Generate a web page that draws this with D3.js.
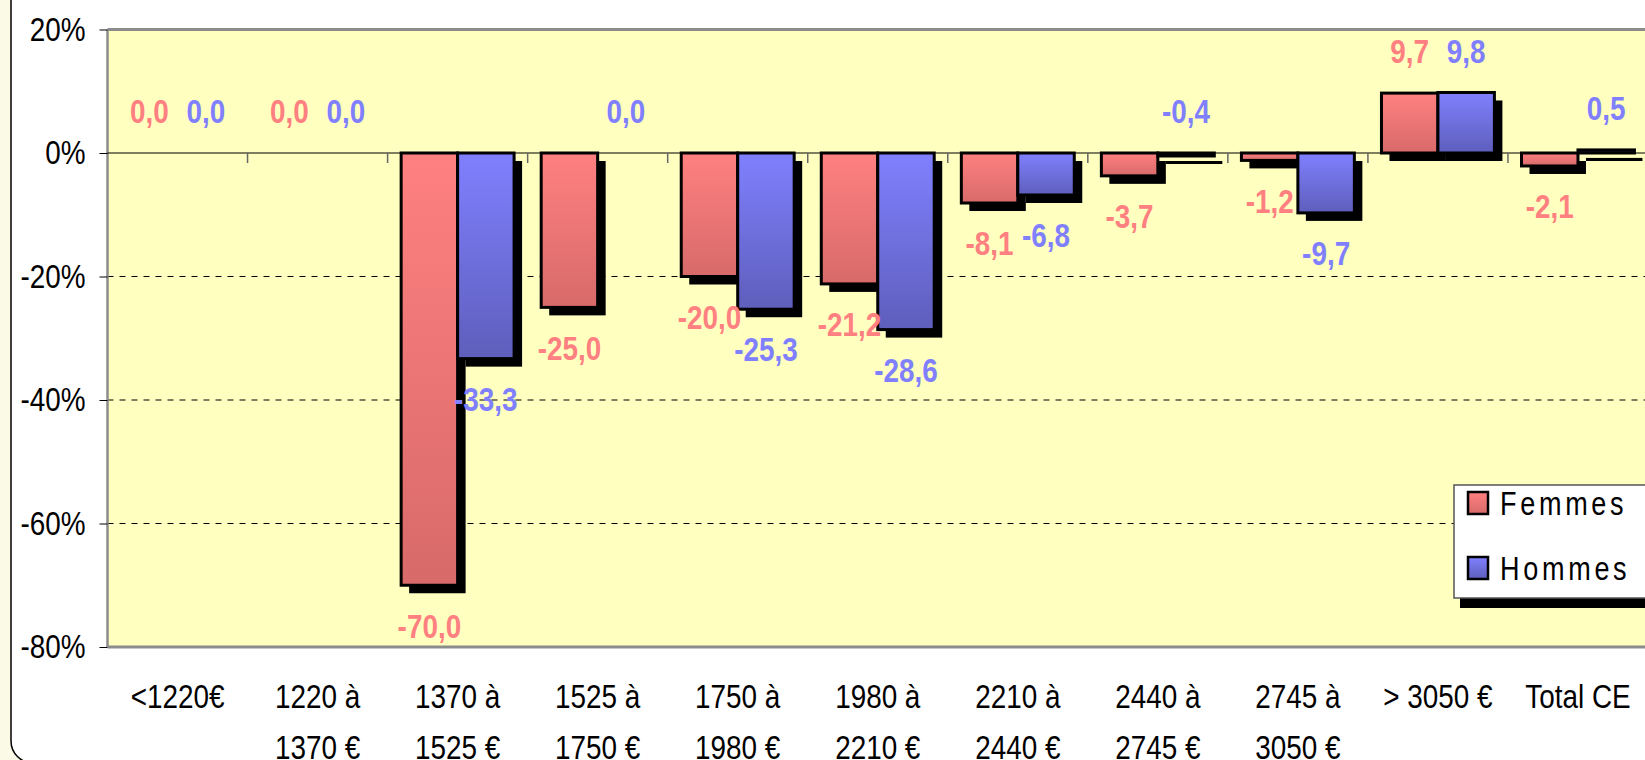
<!DOCTYPE html>
<html>
<head>
<meta charset="utf-8">
<script src="https://cdn.jsdelivr.net/npm/d3@7"></script>
<style>
  html, body { margin: 0; padding: 0; background: #fafae6; overflow: hidden; }
  svg { display: block; }
  text { font-family: "Liberation Sans", Arial, sans-serif; }
</style>
</head>
<body>
<div id="chart"></div>
<script>
// categories and values
const categories = [
  ["<1220€"], ["1220 à", "1370 €"], ["1370 à", "1525 €"], ["1525 à", "1750 €"],
  ["1750 à", "1980 €"], ["1980 à", "2210 €"], ["2210 à", "2440 €"], ["2440 à", "2745 €"],
  ["2745 à", "3050 €"], ["> 3050 €"], ["Total CE"]
];
const seriesNames = ["Femmes", "Hommes"];
const femmes = [0.0, 0.0, -70.0, -25.0, -20.0, -21.2, -8.1, -3.7, -1.2, 9.7, -2.1];
const hommes = [0.0, 0.0, -33.3, null, -25.3, -28.6, -6.8, -0.4, -9.7, 9.8, 0.5];
const hommesLabels = [0.0, 0.0, -33.3, 0.0, -25.3, -28.6, -6.8, -0.4, -9.7, 9.8, 0.5];
const yTicks = [20, 0, -20, -40, -60, -80];

const W = 1645, H = 760;
const margin = { top: 29.5, right: -3, bottom: 113, left: 107.5 };
const SX = 0.82; // narrow look (Arial Narrow is ~82% of Arial)

const svg = d3.select("#chart").append("svg")
  .attr("width", W).attr("height", H);

const defs = svg.append("defs");
const grads = { Femmes: ["#ff8080", "#d86a6a"], Hommes: ["#8080ff", "#5e5ebc"] };
Object.entries(grads).forEach(([k, c]) => {
  const g = defs.append("linearGradient").attr("id", "g" + k)
    .attr("x1", 0).attr("y1", 0).attr("x2", 0).attr("y2", 1);
  g.append("stop").attr("offset", "0%").attr("stop-color", c[0]);
  g.append("stop").attr("offset", "100%").attr("stop-color", c[1]);
});

// outer frame
svg.append("rect")
  .attr("x", 11).attr("y", -40).attr("width", 1700).attr("height", 803)
  .attr("rx", 22).attr("fill", "#ffffff").attr("stroke", "#000").attr("stroke-width", 1.5);

const x0 = d3.scaleBand()
  .domain(d3.range(categories.length))
  .range([margin.left, W - margin.right]);
const x1 = d3.scaleBand()
  .domain(seriesNames)
  .range([0, x0.bandwidth()])
  .paddingOuter(0.24);
const y = d3.scaleLinear()
  .domain([-80, 20])
  .range([H - margin.bottom, margin.top]);

// plot area
svg.append("rect")
  .attr("x", margin.left).attr("y", y(20))
  .attr("width", W - margin.right - margin.left + 10).attr("height", y(-80) - y(20))
  .attr("fill", "#ffffc0");

// grid
svg.append("g").selectAll("line")
  .data([-20, -40, -60]).join("line")
  .attr("x1", margin.left).attr("x2", W)
  .attr("y1", d => y(d)).attr("y2", d => y(d))
  .attr("stroke", "#000").attr("stroke-width", 1).attr("stroke-dasharray", "6,6");

// plot area borders (gray)
svg.append("line").attr("x1", margin.left).attr("x2", W)
  .attr("y1", y(20)).attr("y2", y(20)).attr("stroke", "#8c8c8c").attr("stroke-width", 3);
svg.append("line").attr("x1", margin.left).attr("x2", W)
  .attr("y1", y(-80)).attr("y2", y(-80)).attr("stroke", "#8c8c8c").attr("stroke-width", 3);
svg.append("line").attr("x1", margin.left).attr("x2", margin.left)
  .attr("y1", y(20)).attr("y2", y(-80)).attr("stroke", "#8c8c8c").attr("stroke-width", 2.5);

// y axis
const yAxis = svg.append("g")
  .attr("transform", `translate(${margin.left},0)`)
  .call(d3.axisLeft(y).tickValues(yTicks).tickSize(8).tickPadding(8).tickFormat(d => d + "%"));
yAxis.select(".domain").remove();
yAxis.selectAll("line").attr("stroke", "#000");
yAxis.selectAll("text")
  .attr("x", -22 / SX)
  .attr("transform", `scale(${SX},1)`)
  .attr("font-size", 34).attr("fill", "#000")
  .style("font-family", '"Liberation Sans", Arial, sans-serif');

// zero line + category ticks
svg.append("line").attr("x1", margin.left).attr("x2", W)
  .attr("y1", y(0)).attr("y2", y(0)).attr("stroke", "#000").attr("stroke-width", 1.2);
svg.append("g").selectAll("line")
  .data(d3.range(1, categories.length)).join("line")
  .attr("x1", d => x0(d)).attr("x2", d => x0(d))
  .attr("y1", y(0)).attr("y2", y(0) + 10)
  .attr("stroke", "#666").attr("stroke-width", 1.5);

// bars
const rows = [];
categories.forEach((c, i) => {
  rows.push({ i, s: "Femmes", v: femmes[i] });
  rows.push({ i, s: "Hommes", v: hommes[i] });
});
const barRows = rows.filter(d => d.v !== null && d.v !== 0);
const off = 8;

svg.append("g").selectAll("rect")
  .data(barRows).join("rect")
  .attr("x", d => x0(d.i) + x1(d.s) + off)
  .attr("y", d => y(Math.max(0, d.v)) + off)
  .attr("width", x1.bandwidth())
  .attr("height", d => Math.max(3, Math.abs(y(d.v) - y(0))))
  .attr("fill", "#000");

svg.append("g").selectAll("rect")
  .data(barRows).join("rect")
  .attr("x", d => x0(d.i) + x1(d.s))
  .attr("y", d => y(Math.max(0, d.v)))
  .attr("width", x1.bandwidth())
  .attr("height", d => Math.max(3, Math.abs(y(d.v) - y(0))))
  .attr("fill", d => `url(#g${d.s})`)
  .attr("stroke", "#000").attr("stroke-width", 3);

// value labels
const labelRows = [];
categories.forEach((c, i) => {
  labelRows.push({ i, s: "Femmes", v: femmes[i] });
  labelRows.push({ i, s: "Hommes", v: hommesLabels[i] });
});
const fmt = v => v.toFixed(1).replace(".", ",");
svg.append("g").selectAll("text")
  .data(labelRows).join("text")
  .attr("transform", d => {
    const cx = x0(d.i) + x1(d.s) + x1.bandwidth() / 2;
    const cy = Math.abs(d.v) < 1 || d.v > 0 ? y(Math.max(0, d.v)) - 42 : y(d.v) + 40;
    return `translate(${cx},${cy}) scale(${SX},1)`;
  })
  .attr("dy", "0.36em")
  .attr("text-anchor", "middle")
  .attr("font-size", 34).attr("font-weight", "bold")
  .attr("fill", d => d.s === "Femmes" ? "#ff8080" : "#8080ff")
  .text(d => fmt(d.v));

// category labels
const cat = svg.append("g").selectAll("text")
  .data(categories).join("text")
  .attr("transform", (d, i) => `translate(${x0(i) + x0.bandwidth() / 2},708) scale(${SX},1)`)
  .attr("text-anchor", "middle")
  .attr("font-size", 34).attr("fill", "#000");
cat.selectAll("tspan").data(d => d).join("tspan")
  .attr("x", 0)
  .attr("dy", (d, j) => j === 0 ? 0 : 51)
  .text(d => d);

// legend
const lg = svg.append("g").attr("transform", "translate(1454,380)");
lg.append("rect").attr("x", 6).attr("y", 218).attr("width", 300).attr("height", 10).attr("fill", "#000");
lg.append("rect").attr("x", 0).attr("y", 105).attr("width", 300).attr("height", 113)
  .attr("fill", "#fff").attr("stroke", "#555").attr("stroke-width", 1.5);
seriesNames.forEach((s, k) => {
  lg.append("rect").attr("x", 14).attr("y", 112 + k * 65).attr("width", 20).attr("height", 22)
    .attr("fill", `url(#g${s})`).attr("stroke", "#000").attr("stroke-width", 2.5);
  lg.append("text").attr("transform", `translate(46,${123 + k * 65}) scale(${SX},1)`)
    .attr("dy", "0.36em")
    .attr("font-size", 33).attr("letter-spacing", 4.5).attr("fill", "#000").text(s);
});
</script>
</body>
</html>
